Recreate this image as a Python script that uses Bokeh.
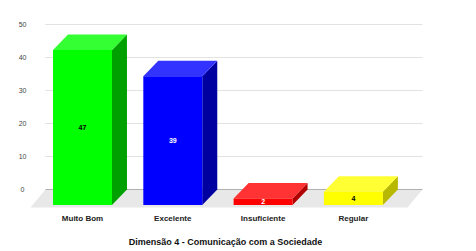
from bokeh.plotting import figure
from bokeh.models import Range1d
from bokeh.core.properties import value
from bokeh.embed import file_html
from bokeh.resources import INLINE

# ---- data ----
categories = ["Muito Bom", "Excelente", "Insuficiente", "Regular"]
counts = [47, 39, 2, 4]
front_colors = ["#00ff00", "#0000ff", "#ff0000", "#ffff00"]
top_colors = ["#33ff33", "#3333ff", "#ff3333", "#ffff33"]
side_colors = ["#00a000", "#0000a0", "#b00000", "#b8b800"]
label_colors = ["#000000", "#ffffff", "#ffffff", "#000000"]
y_ticks = [0, 10, 20, 30, 40, 50]
title_text = "Dimensão 4 - Comunicação com a Sociedade"

# ---- layout constants (data units) ----
W = 0.3265      # half width of front face
DX = 0.166      # depth shift in x
DY = 4.7        # depth shift in y
GX0, GX1 = -0.41, 3.765   # back wall extent
FDX, FDY = 0.166, 5.45    # floor depth

p = figure(width=468, height=251, output_backend="svg", toolbar_location=None,
           x_range=Range1d(-0.908, 4.2746), y_range=Range1d(-18.79, 57.27),
           min_border=0)
p.axis.visible = False
p.grid.visible = False
p.outline_line_color = None
p.background_fill_color = "white"

# floor
p.patch([GX0, GX1, GX1 - FDX, GX0 - FDX], [0, 0, -FDY, -FDY],
        fill_color="#e8e8e8", line_color=None)

# gridlines
grid_ticks = [t for t in y_ticks if t > 0]
p.segment(x0=[GX0] * len(grid_ticks), x1=[GX1] * len(grid_ticks),
          y0=grid_ticks, y1=grid_ticks, line_color="#e2e2e2", line_width=1)
p.segment(x0=[GX0], x1=[GX1], y0=[0], y1=[0], line_color="#b0b0b0", line_width=1)

# bars
xs_front, ys_front, xs_top, ys_top, xs_side, ys_side = [], [], [], [], [], []
for i, v in enumerate(counts):
    l, r = i - W, i + W
    xs_front.append([l, r, r, l]); ys_front.append([-DY, -DY, v - DY, v - DY])
    xs_top.append([l, r, r + DX, l + DX]); ys_top.append([v - DY, v - DY, v, v])
    xs_side.append([r, r + DX, r + DX, r]); ys_side.append([-DY, 0, v, v - DY])
p.patches(xs_side, ys_side, fill_color=side_colors, line_color=None)
p.patches(xs_top, ys_top, fill_color=top_colors, line_color=None)
p.patches(xs_front, ys_front, fill_color=front_colors, line_color=None)

idx = list(range(len(counts)))
# value labels
p.text(x=idx, y=[v / 2 - DY for v in counts], text=[str(v) for v in counts],
       text_color=label_colors, text_font=value("Liberation Sans"),
       text_font_size="7px", text_font_style="bold",
       text_align="center", text_baseline="middle")

# category labels
p.text(x=idx, y=[-8.79] * len(idx), text=categories, text_color="#222222",
       text_font=value("Liberation Sans"), text_font_size="8px",
       text_font_style="bold", text_align="center", text_baseline="middle")

# y tick labels
p.text(x=[-0.664] * len(y_ticks), y=y_ticks, text=[str(t) for t in y_ticks],
       text_color="#444444", text_font=value("Liberation Sans"),
       text_font_size="7px", text_align="center", text_baseline="middle")

# title
p.text(x=[1.584], y=[-16.06], text=[title_text], text_color="#111111",
       text_font=value("Liberation Sans"), text_font_size="9px",
       text_font_style="bold", text_align="center", text_baseline="middle")

open("out.html", "w").write(file_html(p, INLINE))
